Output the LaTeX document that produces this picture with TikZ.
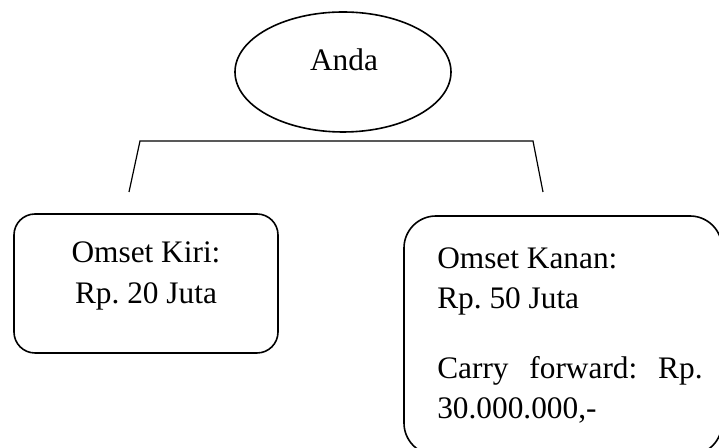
\documentclass[tikz,border=0pt]{standalone}
\usepackage{fontspec}
\setmainfont{Liberation Serif}
\usetikzlibrary{shapes.geometric}

\tikzset{
  txt/.style={inner sep=0pt, font=\fontsize{23.5}{28}\selectfont},
  oval/.style={draw, ellipse, line width=1.2pt, inner sep=0pt},
  omsetbox/.style={draw, rectangle, line width=1.2pt, inner sep=0pt},
}
\frenchspacing

\begin{document}
\begin{tikzpicture}[x=0.75pt,y=0.75pt,yscale=-1,xscale=1]
\useasboundingbox (0,0) rectangle (719,448);
\clip (0,0) rectangle (719,448);

%Shape: Ellipse
\node [oval, minimum width=162pt, minimum height=90pt] (anda) at (343,72) {};
% Text Node
\node [txt, anchor=base] (andatxt) at (344,71) {Anda};

%Shape: Lines
\coordinate (legl) at (129,192);
\coordinate (topl) at (140,141);
\coordinate (topr) at (533,141);
\coordinate (legr) at (543,192);
\draw [line width=0.9pt] (legl) -- (topl) -- (topr) -- (legr);

%Shape: Rounded Rect
\node [omsetbox, rounded corners=15.75pt, minimum width=198pt, minimum height=104.25pt] (kiri) at (146,283.5) {};
%Shape: Rounded Rect
\node [omsetbox, rounded corners=24pt, minimum width=238.5pt, minimum height=179.25pt] (kanan) at (563,335.5) {};

% Text Node
\node [txt, anchor=base] (kiri1) at (146,263) {Omset Kiri:};
% Text Node
\node [txt, anchor=base] (kiri2) at (146,304) {Rp. 20 Juta};
% Text Node
\node [txt, anchor=base west] (kanan1) at (437,269) {Omset Kanan:};
% Text Node
\node [txt, anchor=base west] (kanan2) at (437,309) {Rp. 50 Juta};
% Text Node
\node [txt, anchor=base west] (kanan3) at (437,379) {\makebox[199pt][s]{Carry forward: Rp.}};
% Text Node
\node [txt, anchor=base west] (kanan4) at (437,419) {30.000.000,-};

\end{tikzpicture}
\end{document}
